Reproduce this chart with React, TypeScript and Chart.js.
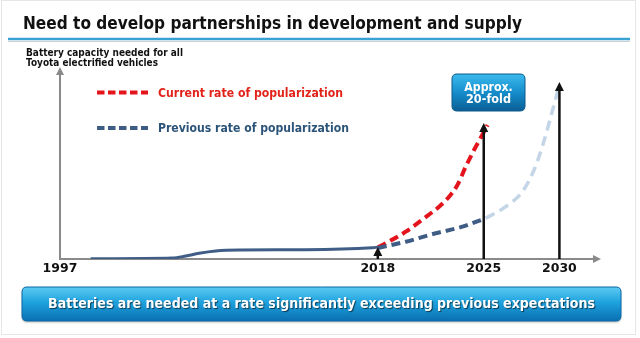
import React, { useEffect, useRef } from "react";
import { Chart, registerables } from "chart.js";

Chart.register(...registerables);

// ---- data (years on x, arbitrary capacity index on y) ----
const tickYears = [1997, 2018, 2025, 2030];

const actualYears = [1999.03, 2004.43, 2005.31, 2006.19, 2007.29, 2008.83, 2013.24, 2017.64, 2018.0];
const actualValues = [0.03, 0.1, 0.3, 0.57, 0.8, 0.9, 0.93, 1.13, 1.18];

const currentYears = [2018.0, 2018.52, 2019.85, 2021.06, 2022.05, 2022.71, 2023.26, 2023.81, 2024.36, 2024.9, 2025.25];
const currentValues = [1.15, 1.57, 2.73, 4.07, 5.23, 6.23, 7.4, 9.23, 10.9, 12.4, 13.4];

const previousYears = [2018.0, 2019.85, 2021.83, 2023.59, 2025.13];
const previousValues = [1.1, 1.73, 2.57, 3.23, 4.07];

const previousLaterYears = [2025.13, 2026.45, 2027.55, 2028.32, 2028.87, 2029.43, 2029.97];
const previousLaterValues = [4.07, 5.23, 6.73, 8.9, 11.23, 14.23, 17.23];

const arrowYears = [2018, 2025, 2030];
const arrowTops = [1.2, 13.6, 17.7];

const yMax = 18.9;
const xMin = 1997;
const xMax = 2032.55;

// ---- texts ----
const titleText = "Need to develop partnerships in development and supply";
const yTitleLines = ["Battery capacity needed for all", "Toyota electrified vehicles"];
const legendCurrent = "Current rate of popularization";
const legendPrevious = "Previous rate of popularization";
const calloutLines = ["Approx.", "20-fold"];
const bannerText = "Batteries are needed at a rate significantly exceeding previous expectations";

const RED = "#e3141c";
const DARK_BLUE = "#3e5c84";
const LIGHT_BLUE = "#c3d5e6";
const SOLID_BLUE = "#3f5d86";
const FONT = '"DejaVu Sans"';

function fitText(
  ctx: CanvasRenderingContext2D,
  text: string,
  x: number,
  baseline: number,
  size: number,
  width: number,
  color: string,
  align: CanvasTextAlign = "left",
  shadow = false
) {
  ctx.save();
  ctx.font = `bold ${size}px ${FONT}`;
  const w = ctx.measureText(text).width;
  const sx = width / w;
  ctx.translate(x, baseline);
  ctx.scale(sx, 1);
  ctx.textAlign = align;
  ctx.textBaseline = "alphabetic";
  if (shadow) {
    ctx.shadowColor = "rgba(0,0,0,0.6)";
    ctx.shadowOffsetX = 1;
    ctx.shadowOffsetY = 1;
    ctx.shadowBlur = 1;
  }
  ctx.fillStyle = color;
  ctx.fillText(text, 0, 0);
  ctx.restore();
}

function roundRectPath(ctx: CanvasRenderingContext2D, x: number, y: number, w: number, h: number, r: number) {
  ctx.beginPath();
  ctx.moveTo(x + r, y);
  ctx.lineTo(x + w - r, y);
  ctx.quadraticCurveTo(x + w, y, x + w, y + r);
  ctx.lineTo(x + w, y + h - r);
  ctx.quadraticCurveTo(x + w, y + h, x + w - r, y + h);
  ctx.lineTo(x + r, y + h);
  ctx.quadraticCurveTo(x, y + h, x, y + h - r);
  ctx.lineTo(x, y + r);
  ctx.quadraticCurveTo(x, y, x + r, y);
  ctx.closePath();
}

const decorPlugin = {
  id: "decor",
  beforeDraw(chart: any) {
    const ctx: CanvasRenderingContext2D = chart.ctx;
    ctx.save();
    ctx.fillStyle = "#ffffff";
    ctx.fillRect(0, 0, chart.width, chart.height);
    ctx.strokeStyle = "#e6e6e6";
    ctx.lineWidth = 1;
    ctx.strokeRect(1.5, 0.5, 634, 334);
    ctx.restore();
  },
  afterDatasetsDraw(chart: any) {
    const ctx: CanvasRenderingContext2D = chart.ctx;
    const xs = chart.scales.x;
    const ys = chart.scales.y;
    const area = chart.chartArea;
    ctx.save();
    // axis arrowheads
    ctx.fillStyle = "#8a8a8a";
    ctx.beginPath();
    ctx.moveTo(area.left, area.top - 3);
    ctx.lineTo(area.left - 4, area.top + 5);
    ctx.lineTo(area.left + 4, area.top + 5);
    ctx.closePath();
    ctx.fill();
    ctx.beginPath();
    ctx.moveTo(area.right + 3, area.bottom);
    ctx.lineTo(area.right - 5, area.bottom - 4);
    ctx.lineTo(area.right - 5, area.bottom + 4);
    ctx.closePath();
    ctx.fill();
    // black arrows
    ctx.strokeStyle = "#111111";
    ctx.fillStyle = "#111111";
    ctx.lineWidth = 2.5;
    arrowYears.forEach((yr, i) => {
      const x = xs.getPixelForValue(yr);
      const tip = ys.getPixelForValue(arrowTops[i]);
      ctx.beginPath();
      ctx.moveTo(x, area.bottom);
      ctx.lineTo(x, tip + 7);
      ctx.stroke();
      ctx.beginPath();
      ctx.moveTo(x, tip);
      ctx.lineTo(x - 4.5, tip + 9);
      ctx.lineTo(x + 4.5, tip + 9);
      ctx.closePath();
      ctx.fill();
    });
    ctx.restore();
  },
  afterDraw(chart: any) {
    const ctx: CanvasRenderingContext2D = chart.ctx;
    ctx.save();
    // title + rule
    fitText(ctx, titleText, 23, 29, 18.5, 499, "#111111");
    ctx.strokeStyle = "#cfcfcf";
    ctx.lineWidth = 1;
    ctx.beginPath();
    ctx.moveTo(8, 41.5);
    ctx.lineTo(630, 41.5);
    ctx.stroke();
    ctx.strokeStyle = "#38a2d2";
    ctx.lineWidth = 2.5;
    ctx.beginPath();
    ctx.moveTo(8, 39);
    ctx.lineTo(630, 39);
    ctx.stroke();
    // y title
    fitText(ctx, yTitleLines[0], 26, 55.5, 9.6, 157, "#111111");
    fitText(ctx, yTitleLines[1], 26, 65.5, 9.6, 132, "#111111");
    // legend
    ctx.lineWidth = 4;
    ctx.setLineDash([7.5, 3.5]);
    ctx.strokeStyle = RED;
    ctx.beginPath();
    ctx.moveTo(97, 92.5);
    ctx.lineTo(148, 92.5);
    ctx.stroke();
    ctx.strokeStyle = DARK_BLUE;
    ctx.beginPath();
    ctx.moveTo(97, 128);
    ctx.lineTo(148, 128);
    ctx.stroke();
    ctx.setLineDash([]);
    fitText(ctx, legendCurrent, 158, 97.3, 13, 185, "#e2231a");
    fitText(ctx, legendPrevious, 158, 132.3, 13, 191, "#2b5478");
    // callout box
    let g = ctx.createLinearGradient(0, 74, 0, 111);
    g.addColorStop(0, "#3cbbee");
    g.addColorStop(0.5, "#158dcb");
    g.addColorStop(1, "#0b5e94");
    roundRectPath(ctx, 452, 74, 73, 37, 5);
    ctx.fillStyle = g;
    ctx.fill();
    ctx.strokeStyle = "#0a5a8a";
    ctx.lineWidth = 1;
    ctx.stroke();
    fitText(ctx, calloutLines[0], 488.5, 90.5, 13, 48.5, "#ffffff", "center");
    fitText(ctx, calloutLines[1], 488.5, 103, 13, 45, "#ffffff", "center");
    // banner
    ctx.save();
    ctx.shadowColor = "rgba(0,0,0,0.25)";
    ctx.shadowOffsetY = 1.5;
    ctx.shadowBlur = 2;
    g = ctx.createLinearGradient(0, 287, 0, 321);
    g.addColorStop(0, "#5ccaf3");
    g.addColorStop(0.45, "#1ea2de");
    g.addColorStop(1, "#0a6fb0");
    roundRectPath(ctx, 22, 287, 599, 34, 5);
    ctx.fillStyle = g;
    ctx.fill();
    ctx.restore();
    roundRectPath(ctx, 22, 287, 599, 34, 5);
    ctx.strokeStyle = "#0b68a6";
    ctx.lineWidth = 1;
    ctx.stroke();
    fitText(ctx, bannerText, 48, 307.5, 14.5, 547, "#ffffff", "left", true);
    ctx.restore();
  },
};

function toPoints(xs: number[], ys: number[]) {
  return xs.map((x, i) => ({ x, y: ys[i] }));
}

export default function App() {
  const ref = useRef<HTMLCanvasElement | null>(null);

  useEffect(() => {
    if (!ref.current) return;
    const chart = new Chart(ref.current, {
      type: "line",
      data: {
        datasets: [
          {
            label: "Actual",
            data: toPoints(actualYears, actualValues),
            borderColor: SOLID_BLUE,
            borderWidth: 3,
            pointRadius: 0,
            cubicInterpolationMode: "monotone",
            order: 0,
          },
          {
            label: legendCurrent,
            data: toPoints(currentYears, currentValues),
            borderColor: RED,
            borderWidth: 4,
            borderDash: [9, 5],
            pointRadius: 0,
            cubicInterpolationMode: "monotone",
            order: 2,
          },
          {
            label: legendPrevious,
            data: toPoints(previousYears, previousValues),
            borderColor: DARK_BLUE,
            borderWidth: 4,
            borderDash: [9, 5],
            pointRadius: 0,
            cubicInterpolationMode: "monotone",
            order: 1,
          },
          {
            label: "Previous (later)",
            data: toPoints(previousLaterYears, previousLaterValues),
            borderColor: LIGHT_BLUE,
            borderWidth: 3.5,
            borderDash: [10, 6],
            pointRadius: 0,
            cubicInterpolationMode: "monotone",
            order: 3,
          },
        ],
      },
      options: {
        responsive: false,
        animation: false,
        events: [],
        layout: { padding: { left: 0, right: 42, top: 70, bottom: 0 } },
        plugins: {
          legend: { display: false },
          tooltip: { enabled: false },
          title: { display: false },
        },
        scales: {
          x: {
            type: "linear",
            min: xMin,
            max: xMax,
            grid: { display: false, drawTicks: false },
            border: { display: true, color: "#8a8a8a", width: 2 },
            afterBuildTicks: (scale: any) => {
              scale.ticks = tickYears.map((v) => ({ value: v }));
            },
            afterFit: (scale: any) => {
              scale.height = 79;
            },
            ticks: {
              autoSkip: false,
              maxRotation: 0,
              padding: 2,
              color: "#111111",
              font: { family: FONT, weight: "bold", size: 12.5 },
              callback: (v: any) => String(v),
            },
          },
          y: {
            type: "linear",
            min: 0,
            max: yMax,
            grid: { display: false, drawTicks: false },
            border: { display: true, color: "#8a8a8a", width: 2 },
            ticks: { display: false },
            afterFit: (scale: any) => {
              scale.width = 60;
            },
          },
        },
      },
      plugins: [decorPlugin],
    } as any);
    return () => chart.destroy();
  }, []);

  return (
    <div style={{ position: "fixed", left: 0, top: 0, width: 640, height: 338, background: "#fff" }}>
      <canvas ref={ref} width={640} height={338} style={{ display: "block" }} />
    </div>
  );
}
